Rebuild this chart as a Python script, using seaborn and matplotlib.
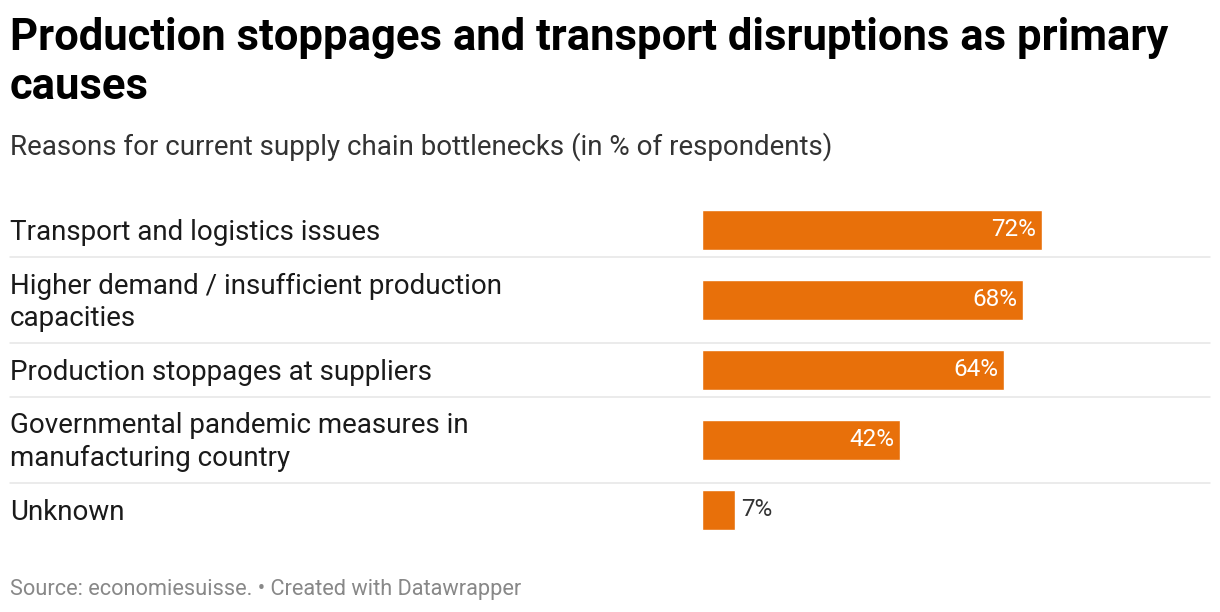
import matplotlib
matplotlib.use('Agg')
import matplotlib.pyplot as plt
import matplotlib.transforms as mtransforms
import pandas as pd
import seaborn as sns

categories = [
    'Transport and logistics issues',
    'Higher demand / insufficient production\ncapacities',
    'Production stoppages at suppliers',
    'Governmental pandemic measures in\nmanufacturing country',
    'Unknown',
]
values = [72, 68, 64, 42, 7]
# gap below each row label down to the separator line (in row units)
separator_offsets = [0.386, 0.614, 0.386, 0.614]

title = 'Production stoppages and transport disruptions as primary\ncauses'
subtitle = 'Reasons for current supply chain bottlenecks (in % of respondents)'
source = 'Source: economiesuisse. \u2022 Created with Datawrapper'

bar_color = '#E8700A'

sns.set_style('white')
plt.rcParams['font.family'] = ['Roboto', 'DejaVu Sans']

df = pd.DataFrame({'reason': categories, 'share': values})

fig = plt.figure(figsize=(12.2, 6.12), dpi=100)
ax = fig.add_axes([702 / 1220, 1 - 545 / 612, 508 / 1220, 350 / 612])

sns.barplot(data=df, x='share', y='reason', color=bar_color, saturation=1,
            width=40 / 70, ax=ax)

ax.set_xlim(0, 508 / 4.72)
ax.set_ylim(4.5, -0.5)
ax.set_xlabel('')
ax.set_ylabel('')
ax.set_xticks([])
ax.set_yticks([])
sns.despine(ax=ax, left=True, bottom=True)

for i, v in enumerate(values):
    if v > 15:
        ax.text(v - 1.2, i, f'{v}%', ha='right', va='center', color='white', fontsize=17.5)
    else:
        ax.text(v + 1.3, i, f'{v}%', ha='left', va='center', color='#333333', fontsize=17.5)

trans = mtransforms.blended_transform_factory(fig.transFigure, ax.transData)
for i, label in enumerate(categories):
    ax.text(10 / 1220, i + 0.03, label, transform=trans, ha='left', va='center',
            fontsize=20, color='#1a1a1a', linespacing=1.25, clip_on=False)

x0 = (10 - 702) / 508
sep_trans = mtransforms.blended_transform_factory(ax.transAxes, ax.transData)
for i, off in enumerate(separator_offsets):
    ax.plot([x0, 1], [i + off, i + off], transform=sep_trans,
            color='#e5e5e5', linewidth=1.1, clip_on=False, zorder=0)

fig.text(10 / 1220, 1 - 17 / 612, title, ha='left', va='top', fontsize=31.4,
         fontweight='bold', color='#000000', linespacing=1.22)
fig.text(10 / 1220, 1 - 147 / 612, subtitle, ha='left', va='center', fontsize=20,
         color='#333333')
fig.text(10 / 1220, 1 - 590 / 612, source, ha='left', va='center', fontsize=15.7,
         color='#888888')

fig.savefig('out.png', dpi=100)
